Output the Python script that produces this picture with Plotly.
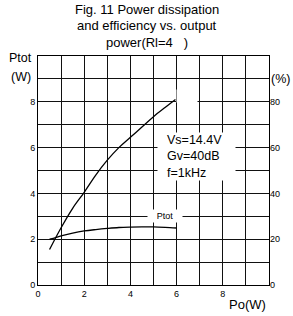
import plotly.graph_objects as go

# Efficiency curve (%), right axis
eff_x = [0.5, 1.0, 1.5, 2.0, 2.5, 3.0, 3.5, 4.0, 4.5, 5.0, 5.5, 5.95]
eff_y = [15.5, 25.0, 33.5, 40.5, 48.0, 54.5, 60.0, 64.5, 69.0, 73.5, 77.5, 81.0]

# Power dissipation curve (W), left axis
ptot_x = [0.5, 0.7, 1.0, 1.5, 2.0, 2.5, 3.0, 3.5, 4.0, 4.5, 5.0, 5.5, 6.0]
ptot_y = [2.0, 2.05, 2.15, 2.27, 2.36, 2.42, 2.47, 2.51, 2.53, 2.54, 2.54, 2.52, 2.49]

x_ticks = list(range(0, 11))
x_labels = ["0", "", "2", "", "4", "", "6", "", "8", "", ""]
y_ticks = list(range(0, 11))
y_labels = ["0", "", "2", "", "4", "", "6", "", "8", "", ""]
y2_ticks = [0, 20, 40, 60, 80]
y2_labels = ["0", "20", "40", "60", "80"]

title_lines = ["Fig. 11 Power dissipation", "and efficiency vs. output", "power(Rl=4   )"]
cond_text = "Vs=14.4V<br>Gv=40dB<br>f=1kHz"

FONT = "Liberation Sans, Arial, sans-serif"
GRID = "#111111"

fig = go.Figure()
fig.add_trace(go.Scatter(x=ptot_x, y=ptot_y, mode="lines", line=dict(color="black", width=1.3, shape="spline"),
                         yaxis="y", showlegend=False, hoverinfo="skip"))
fig.add_trace(go.Scatter(x=eff_x, y=eff_y, mode="lines", line=dict(color="black", width=1.3, shape="spline"),
                         yaxis="y2", showlegend=False, hoverinfo="skip"))

fig.update_layout(
    width=293, height=316,
    margin=dict(l=38, r=24, t=56, b=31),
    paper_bgcolor="white", plot_bgcolor="white",
    font=dict(family=FONT, color="black", size=9),
    showlegend=False,
    xaxis=dict(range=[0, 10], tickmode="array", tickvals=x_ticks, ticktext=x_labels, showgrid=True,
               gridcolor=GRID, gridwidth=1, griddash="solid",
               showline=True, linecolor="black", linewidth=1, mirror=True, zeroline=False, ticks="",
               tickfont=dict(size=9), fixedrange=True, layer="above traces"),
    yaxis=dict(range=[0, 10], tickmode="array", tickvals=y_ticks, ticktext=y_labels, showgrid=True,
               gridcolor=GRID, gridwidth=1, griddash="solid",
               showline=True, linecolor="black", linewidth=1, mirror=True, zeroline=False, ticks="",
               tickfont=dict(size=9), fixedrange=True),
    yaxis2=dict(range=[0, 100], overlaying="y", side="right", tickmode="array", tickvals=y2_ticks,
                ticktext=y2_labels, showgrid=False, zeroline=False, showline=False, ticks="",
                tickfont=dict(size=9), fixedrange=True),
)

ann = []
for i, line in enumerate(title_lines):
    ann.append(dict(text=line, xref="paper", yref="paper", x=0.47, y=1.205 - i * 0.072,
                    xanchor="center", yanchor="middle", showarrow=False, font=dict(size=13)))
ann += [
    dict(text="Ptot", xref="paper", yref="paper", x=-0.074, y=0.99, xanchor="center", yanchor="middle",
         showarrow=False, font=dict(size=12.5)),
    dict(text="(W)", xref="paper", yref="paper", x=-0.074, y=0.91, xanchor="center", yanchor="middle",
         showarrow=False, font=dict(size=12.5)),
    dict(text="(%)", xref="paper", yref="paper", x=1.048, y=0.90, xanchor="center", yanchor="middle",
         showarrow=False, font=dict(size=12.5)),
    dict(text="Po(W)", xref="paper", yref="paper", x=0.905, y=-0.087, xanchor="center", yanchor="middle",
         showarrow=False, font=dict(size=13)),
    # white box behind condition text
    dict(text=" ", xref="x", yref="y", x=6.85, y=5.6, xanchor="center", yanchor="middle", showarrow=False,
         width=77, height=47, bgcolor="white", borderpad=0, font=dict(size=12)),
    dict(text=cond_text, xref="x", yref="y", x=5.5, y=5.6, xanchor="left", yanchor="middle", showarrow=False,
         align="left", font=dict(size=12.5)),
    # Ptot curve label
    dict(text="Ptot", xref="x", yref="y", x=5.5, y=3.0, xanchor="center", yanchor="middle", showarrow=False,
         width=34, height=12, bgcolor="white", borderpad=0, font=dict(size=9)),
    # blank label box at end of efficiency curve
    dict(text=" ", xref="x", yref="y", x=6.45, y=8.25, xanchor="center", yanchor="middle", showarrow=False,
         width=20, height=12, bgcolor="white", borderpad=0, font=dict(size=9)),
]
fig.update_layout(annotations=ann)

fig.write_html("out.html", config={"displayModeBar": False},
               post_script="document.body.style.margin='0';document.body.style.padding='0';")
